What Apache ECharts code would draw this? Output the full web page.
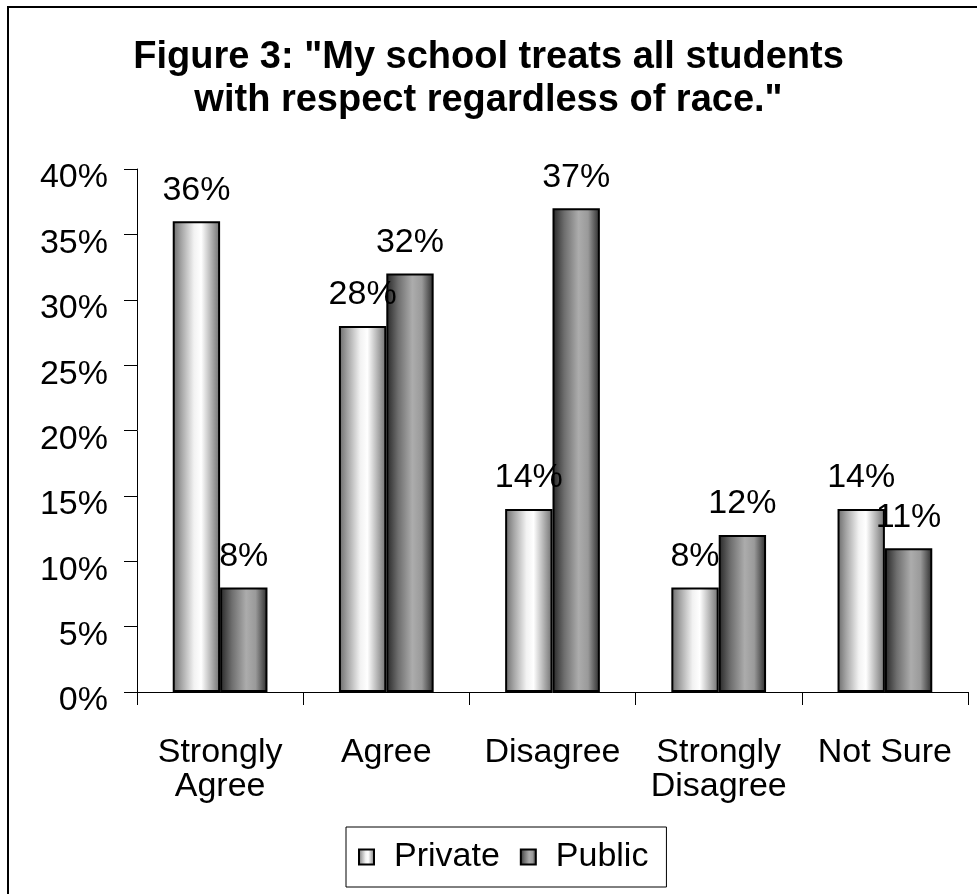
<!DOCTYPE html>
<html>
<head>
<meta charset="utf-8">
<script src="https://cdn.jsdelivr.net/npm/echarts@6/dist/echarts.min.js"></script>
<style>html,body{margin:0;padding:0;background:#fff;}#c{width:977px;height:894px;}</style>
</head>
<body>
<div id="c"></div>
<script>
const titleText = 'Figure 3: "My school treats all students\nwith respect regardless of race."';
const categories = ['Strongly\nAgree', 'Agree', 'Disagree', 'Strongly\nDisagree', 'Not Sure'];
const privateValues = [36, 28, 14, 8, 14];
const publicValues = [8, 32, 37, 12, 11];
const yTicks = [0, 5, 10, 15, 20, 25, 30, 35, 40];

const FONT = 'Arial, "Liberation Sans", sans-serif';
const privGrad = new echarts.graphic.LinearGradient(0, 0, 1, 0, [
  {offset: 0, color: '#6a6a6a'}, {offset: 0.18, color: '#a4a4a4'},
  {offset: 0.45, color: '#f2f2f2'}, {offset: 0.6, color: '#ffffff'},
  {offset: 0.82, color: '#b0b0b0'}, {offset: 1, color: '#6e6e6e'}]);
const pubGrad = new echarts.graphic.LinearGradient(0, 0, 1, 0, [
  {offset: 0, color: '#262626'}, {offset: 0.25, color: '#6e6e6e'},
  {offset: 0.55, color: '#acacac'}, {offset: 0.75, color: '#9a9a9a'},
  {offset: 1, color: '#2a2a2a'}]);

const chart = echarts.init(document.getElementById('c'), null, {renderer: 'canvas'});
const labelCfg = {show: true, position: 'top', distance: 14, color: '#000', fontSize: 34, fontFamily: FONT,
  formatter: p => p.value + '%'};
chart.setOption({
  animation: false,
  backgroundColor: '#fff',
  textStyle: {fontFamily: FONT},
  graphic: [{type: 'rect', shape: {x: 8, y: 7, width: 1100, height: 1100},
    style: {fill: 'none', stroke: '#000', lineWidth: 2}, silent: true, z: -1}],
  title: {text: titleText, left: 'center', top: 31,
    textStyle: {fontSize: 38, fontWeight: 'bold', color: '#000', lineHeight: 43, fontFamily: FONT}},
  legend: {bottom: 7, left: 346, icon: 'rect', itemWidth: 15, itemHeight: 15, itemGap: 20,
    borderColor: '#000', borderWidth: 1, padding: [13, 18, 13, 12],
    textStyle: {fontSize: 34, color: '#000', fontFamily: FONT, padding: [0, 0, 0, 15]},
    data: ['Private', 'Public']},
  grid: {left: 137, right: 9, top: 169, bottom: 202, containLabel: false},
  xAxis: {type: 'category', data: categories,
    axisLine: {lineStyle: {color: '#000', width: 1}},
    axisTick: {show: true, length: 13, lineStyle: {color: '#000'}},
    axisLabel: {fontSize: 34, color: '#000', margin: 44, lineHeight: 34, interval: 0, fontFamily: FONT}},
  yAxis: {type: 'value', min: yTicks[0], max: yTicks[yTicks.length - 1], interval: 5,
    axisLine: {show: true, lineStyle: {color: '#000', width: 1}},
    axisTick: {show: true, length: 13, lineStyle: {color: '#000'}},
    splitLine: {show: false},
    axisLabel: {color: '#000', margin: 29, formatter: '{v|{value}%}',
      rich: {v: {fontSize: 34, color: '#000', fontFamily: FONT, padding: [18, 0, 0, 0]}}}},
  series: [
    {name: 'Private', type: 'bar', data: privateValues, barGap: '0%', barCategoryGap: '43%',
      itemStyle: {color: privGrad, borderColor: '#000', borderWidth: 2}, label: labelCfg},
    {name: 'Public', type: 'bar', data: publicValues,
      itemStyle: {color: pubGrad, borderColor: '#000', borderWidth: 2}, label: labelCfg}
  ]
});
</script>
</body>
</html>
